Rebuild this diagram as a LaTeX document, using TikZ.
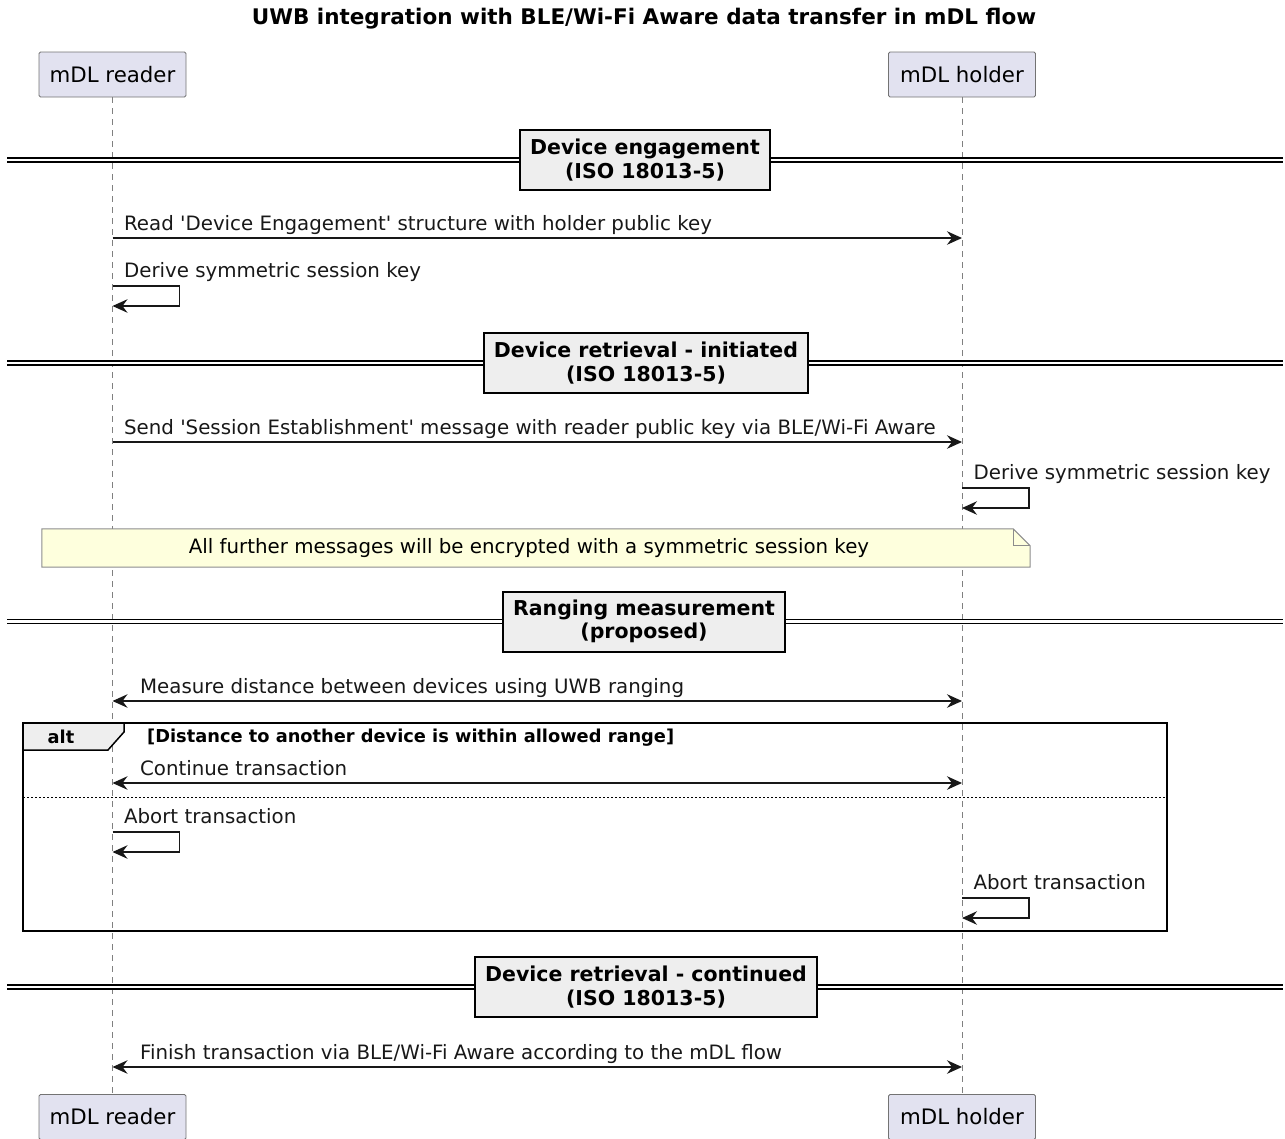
\documentclass[tikz,border=0pt]{standalone}
\usepackage{fontspec}
\setmainfont{DejaVu Sans}
\usetikzlibrary{arrows.meta,positioning,calc}

\definecolor{partfill}{HTML}{E2E2F0}
\definecolor{divfill}{HTML}{EEEEEE}
\definecolor{notefill}{HTML}{FEFFDD}
\definecolor{linecol}{HTML}{181818}

\begin{document}
\begin{tikzpicture}[
    x=1pt, y=-1pt,
    >={Stealth[length=15pt, width=13.5pt, inset=5pt]},
    participant/.style={rectangle, rounded corners=1.5pt, minimum width=147pt, minimum height=45pt, inner sep=0pt, draw=black!55, line width=0.9pt, fill=partfill, font=\fontsize{21.3}{24}\selectfont},
    lifeline/.style={draw=black!50, line width=0.9pt, dash pattern=on 6pt off 5pt},
    message/.style={->, draw=linecol, line width=1.2pt},
    both/.style={<->, draw=linecol, line width=1.2pt},
    msglabel/.style={anchor=base west, inner sep=0pt, font=\fontsize{19.8}{22}\selectfont, text=linecol, xshift=11pt, yshift=8pt},
    bothlabel/.style={msglabel, xshift=16pt},
    divider/.style={rectangle, draw=black, line width=2pt, fill=divfill, align=center, minimum height=60pt, inner xsep=10pt, inner ysep=5pt, font=\bfseries\fontsize{20.5}{23.5}\selectfont},
    dividerline/.style={draw=black, line width=1.5pt, double=white, double distance=2.5pt},
    note/.style={rectangle, fill=notefill, minimum width=988pt, minimum height=38pt, inner sep=0pt, font=\fontsize{19.8}{22}\selectfont},
    noteline/.style={draw=black!45, line width=1pt},
    frame/.style={draw=black, line width=2.4pt},
    tab/.style={draw=black, line width=1.5pt, fill=divfill},
    separator/.style={draw=black, line width=1pt, dash pattern=on 2pt off 2pt}
]
\useasboundingbox (0,0) rectangle (1285,1138);

% Title
\node[font=\bfseries\fontsize{21.5}{24}\selectfont] (title) at (644,19) {UWB integration with BLE/Wi-Fi Aware data transfer in mDL flow};

% Entities
\node[participant] (reader) at (112.5,74.5) {mDL reader};
\node[participant] (holder) at (962,74.5) {mDL holder};
\node[participant] (readerb) at (112.5,1117) {mDL reader};
\node[participant] (holderb) at (962,1117) {mDL holder};

% Lifelines
\draw[lifeline] (reader) -- (readerb);
\draw[lifeline] (holder) -- (holderb);

% Rows
\coordinate (y1) at (0,238);
\coordinate (s1) at (0,286);
\coordinate (y2) at (0,442);
\coordinate (s2) at (0,488);
\coordinate (y3) at (0,701);
\coordinate (y4) at (0,783);
\coordinate (sep) at (0,797);
\coordinate (s3) at (0,832);
\coordinate (s4) at (0,898);
\coordinate (y5) at (0,1067);

% Dividers
\coordinate (d1w) at (7,160);
\coordinate (d1e) at (1283,160);
\draw[dividerline] (d1w) -- (d1e);
\node[divider] (div1) at (645,160) {Device engagement\\(ISO 18013-5)};

\coordinate (d2w) at (7,363);
\coordinate (d2e) at (1283,363);
\draw[dividerline] (d2w) -- (d2e);
\node[divider] (div2) at (646,363) {Device retrieval - initiated\\(ISO 18013-5)};

\coordinate (d3w) at (7,621.5);
\coordinate (d3e) at (1283,621.5);
\draw[dividerline] (d3w) -- (d3e);
\node[divider] (div3) at (644,621.5) {Ranging measurement\\(proposed)};

\coordinate (d4w) at (7,987);
\coordinate (d4e) at (1283,987);
\draw[dividerline] (d4w) -- (d4e);
\node[divider] (div4) at (646,987) {Device retrieval - continued\\(ISO 18013-5)};

% Messages
\draw[message] (reader |- y1) node[msglabel] {Read \textquotesingle Device Engagement\textquotesingle\ structure with holder public key} -- (holder |- y1);
\draw[message] (reader |- s1) node[msglabel, yshift=1pt] {Derive symmetric session key} -| ++(67,20) -- ++(-67,0);
\draw[message] (reader |- y2) node[msglabel] {Send \textquotesingle Session Establishment\textquotesingle\ message with reader public key via BLE/Wi-Fi Aware} -- (holder |- y2);
\draw[message] (holder |- s2) node[msglabel, yshift=1pt] {Derive symmetric session key} -| ++(67,20) -- ++(-67,0);

% Note
\node[note] (note) at (536,548) {All further messages will be encrypted with a symmetric session key\hspace*{14pt}};
\fill[white] ([xshift=-17pt]note.north east) -- (note.north east) -- ([yshift=-17pt]note.north east) -- cycle;
\draw[noteline] (note.north west) -- ([xshift=-17pt]note.north east) -- ([yshift=-17pt]note.north east) -- (note.south east) -- (note.south west) -- cycle;
\draw[noteline] ([xshift=-17pt]note.north east) |- ([yshift=-17pt]note.north east);

\draw[both] (reader |- y3) node[bothlabel] {Measure distance between devices using UWB ranging} -- (holder |- y3);

% Alt frame
\coordinate (altnw) at (23,723);
\coordinate (altse) at (1167,931);
\draw[frame] (altnw) rectangle (altse);
\filldraw[tab] (altnw) -- ++(101,0) -- ++(0,9) -- ++(-16,18) -- ++(-85,0) -- cycle;
\node[font=\bfseries\fontsize{17.8}{20}\selectfont, inner sep=0pt] (alt) at (61,737) {alt};
\node[font=\bfseries\fontsize{17.8}{20}\selectfont, inner sep=0pt, anchor=base west] (guard) at (147,742) {[Distance to another device is within allowed range]};
\draw[separator] (altnw |- sep) -- (altse |- sep);

\draw[both] (reader |- y4) node[bothlabel] {Continue transaction} -- (holder |- y4);
\draw[message] (reader |- s3) node[msglabel, yshift=1pt] {Abort transaction} -| ++(67,20) -- ++(-67,0);
\draw[message] (holder |- s4) node[msglabel, yshift=1pt] {Abort transaction} -| ++(67,20) -- ++(-67,0);

\draw[both] (reader |- y5) node[bothlabel] {Finish transaction via BLE/Wi-Fi Aware according to the mDL flow} -- (holder |- y5);

\end{tikzpicture}
\end{document}
